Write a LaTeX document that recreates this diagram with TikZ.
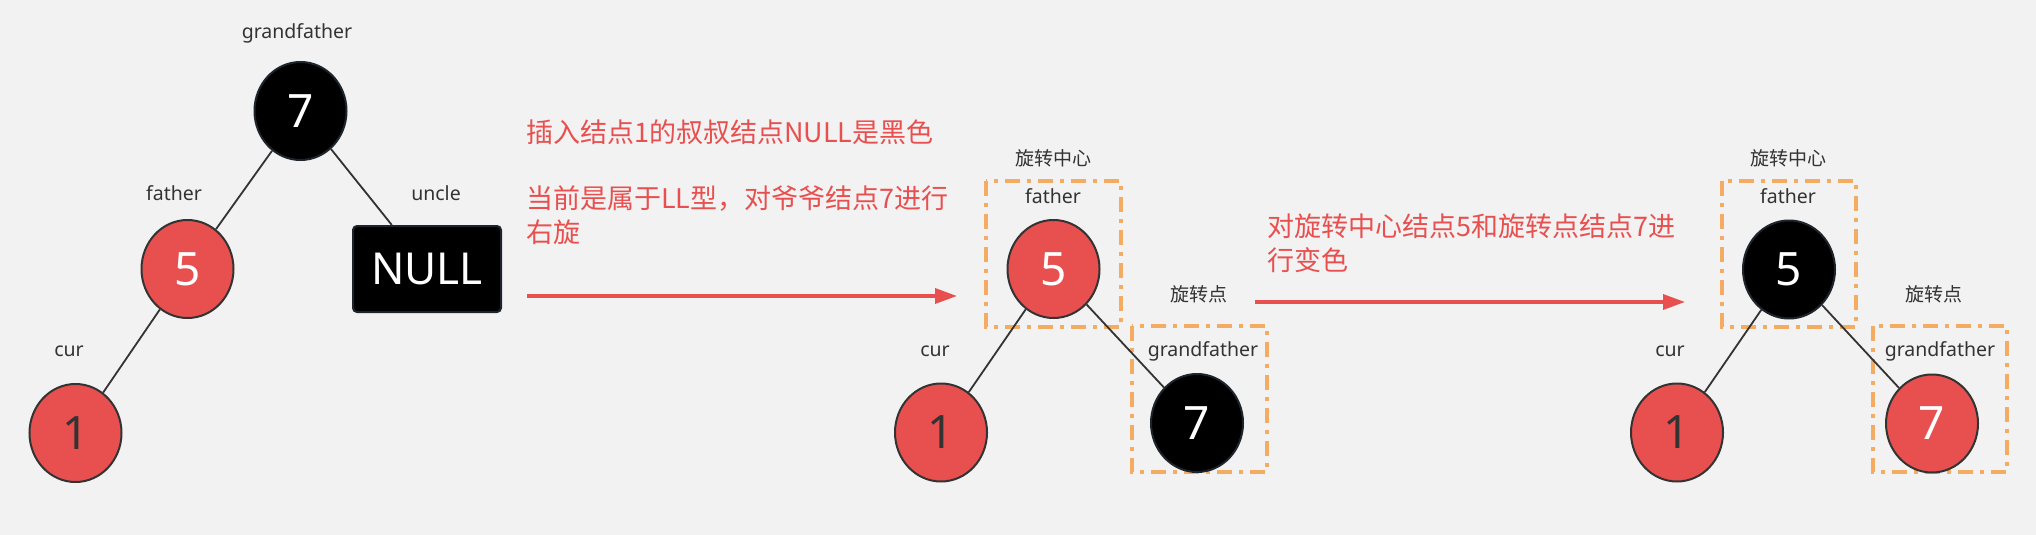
\documentclass[tikz,border=0pt]{standalone}
\usepackage{fontspec}
\setmainfont{Noto Sans}
\newfontfamily\cjk{Noto Sans CJK SC}
\usetikzlibrary{shapes.geometric,arrows.meta}
\definecolor{bg}{HTML}{F2F2F2}
\definecolor{rb}{HTML}{E85050}
\definecolor{og}{HTML}{F4AC62}
\definecolor{tx}{HTML}{333333}
\definecolor{bd}{HTML}{1E242B}
\begin{document}
\begin{tikzpicture}[x=1pt,y=-1pt,
  rbnode/.style={ellipse, minimum width=92pt, minimum height=98pt, inner sep=0pt, line width=2pt, font=\fontsize{46}{46}\selectfont},
  rednode/.style={rbnode, fill=rb, draw=tx},
  blknode/.style={rbnode, fill=black, draw=bd, text=white},
  nullbox/.style={rectangle, rounded corners=4pt, fill=black, draw=bd, line width=2pt, text=white, minimum width=148pt, minimum height=86pt, inner sep=0pt, font=\fontsize{44}{44}\selectfont},
  lab/.style={text=tx, inner sep=0pt, font=\fontsize{19.5}{22}\selectfont},
  cjklab/.style={text=tx, inner sep=0pt, font={\cjk\fontsize{19}{22}\selectfont}},
  rtext/.style={text=rb, anchor=west, align=left, inner sep=0pt, font={\cjk\fontsize{27}{34}\selectfont}},
  edge/.style={draw=tx, line width=1.8pt},
  obox/.style={draw=og, line width=3.5pt, dash pattern=on 15pt off 7pt on 4pt off 7pt},
  rarrow/.style={draw=rb, line width=3.5pt, -{Triangle[length=22pt,width=15pt]}}
]
\useasboundingbox (0,0) rectangle (2036,535);
\fill[bg] (0,0) rectangle (2036,535);

% ---------- diagram 1 ----------
\node[blknode] (a7) at (300.5,111) {7};
\node[rednode, text=white] (a5) at (187.5,269) {5};
\node[nullbox] (anull) at (427,269) {NULL};
\node[rednode, text=tx] (a1) at (75.5,433) {1};
\draw[edge] (a7) -- (a5);
\draw[edge] (a7) -- (anull);
\draw[edge] (a5) -- (a1);
\node[lab] (agf) at (297,33) {grandfather};
\node[lab] (afa) at (174,193) {father};
\node[lab] (aun) at (436,193) {uncle};
\node[lab] (acur) at (69,351) {cur};

% ---------- text and arrow 1 ----------
\node[rtext] (t1) at (526,132) {插入结点1的叔叔结点NULL是黑色};
\node[rtext] (t2) at (526,215) {当前是属于LL型，对爷爷结点7进行\\右旋};
\coordinate (a1s) at (527,296);
\coordinate (a1e) at (957,296);
\draw[rarrow] (a1s) -- (a1e);

% ---------- diagram 2 ----------
\draw[obox] (986,181) rectangle (1121,327);
\draw[obox] (1132,326) rectangle (1267,472);
\node[rednode, text=white] (b5) at (1053.5,269) {5};
\node[rednode, text=tx] (b1) at (941,432.5) {1};
\node[blknode] (b7) at (1197,423) {7};
\draw[edge] (b5) -- (b1);
\draw[edge] (b5) -- (b7);
\node[cjklab] (bc) at (1053,158) {旋转中心};
\node[lab] (bfa) at (1053,196) {father};
\node[lab] (bcur) at (935,351) {cur};
\node[cjklab] (bp) at (1199,294) {旋转点};
\node[lab] (bgf) at (1203,351) {grandfather};

% ---------- text and arrow 2 ----------
\node[rtext] (t3) at (1267,243.5) {对旋转中心结点5和旋转点结点7进\\行变色};
\coordinate (a2s) at (1255,302);
\coordinate (a2e) at (1685,302);
\draw[rarrow] (a2s) -- (a2e);

% ---------- diagram 3 ----------
\draw[obox] (1722,181) rectangle (1856,327);
\draw[obox] (1873,326) rectangle (2007,472);
\node[blknode] (c5) at (1789,269.5) {5};
\node[rednode, text=tx] (c1) at (1677,432.5) {1};
\node[rednode, text=white] (c7) at (1932,423.5) {7};
\draw[edge] (c5) -- (c1);
\draw[edge] (c5) -- (c7);
\node[cjklab] (cc) at (1788,158) {旋转中心};
\node[lab] (cfa) at (1788,196) {father};
\node[lab] (ccur) at (1670,351) {cur};
\node[cjklab] (cp) at (1934,294) {旋转点};
\node[lab] (cgf) at (1940,351) {grandfather};
\end{tikzpicture}
\end{document}
